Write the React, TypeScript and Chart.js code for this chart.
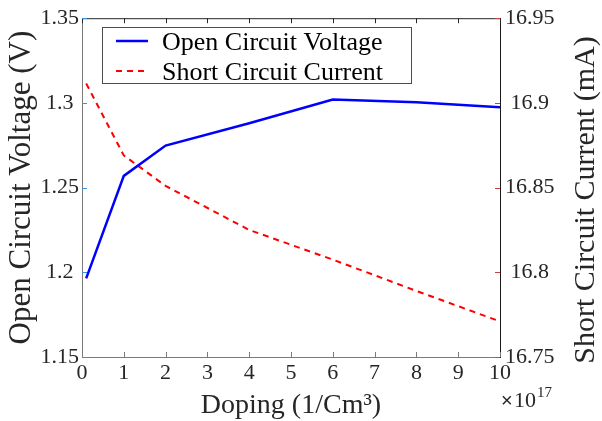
import React, { useEffect, useRef } from "react";
import { Chart, registerables } from "chart.js";

Chart.register(...registerables);

const doping = [0.1, 1, 2, 4, 6, 8, 10];
const openCircuitVoltage = [1.1964, 1.2569, 1.2748, 1.288, 1.302, 1.3004, 1.2975];
const shortCircuitCurrent = [16.9115, 16.869, 16.851, 16.825, 16.8075, 16.789, 16.771];
const seriesLabels = ["Open Circuit Voltage", "Short Circuit Current"];
const xTitle = "Doping (1/Cm³)";
const yLeftTitle = "Open Circuit Voltage (V)";
const yRightTitle = "Short Circuit Current (mA)";
const xExponent = "17";

const SERIF = "'Liberation Serif', 'Times New Roman', serif";
const TEXT = "#262626";

const fmt = (v: number) => String(parseFloat(Number(v).toFixed(2)));

const decorPlugin = {
  id: "decor",
  afterDraw(chart: any) {
    const ctx = chart.ctx as CanvasRenderingContext2D;
    const { left, right, top, bottom } = chart.chartArea;
    const xs = chart.scales.x;
    const yl = chart.scales.y;
    const yr = chart.scales.y1;
    const tl = 5;
    ctx.save();
    ctx.lineWidth = 1;
    const line = (x1: number, y1: number, x2: number, y2: number, c: string) => {
      ctx.strokeStyle = c;
      ctx.beginPath();
      ctx.moveTo(x1, y1);
      ctx.lineTo(x2, y2);
      ctx.stroke();
    };
    line(left + 0.5, top, left + 0.5, bottom, "#7a7a7a");
    line(left, bottom + 0.5, right, bottom + 0.5, "#7a7a7a");
    line(left, top + 0.5, right, top + 0.5, "#262626");
    line(right + 0.5, top, right + 0.5, bottom + 1, "#1a1a1a");
    xs.ticks.forEach((t: any) => {
      const px = Math.round(xs.getPixelForValue(t.value)) + 0.5;
      line(px, bottom, px, bottom - tl, "#7a7a7a");
      line(px, top, px, top + tl, "#262626");
    });
    yl.ticks.forEach((t: any) => {
      const py = Math.round(yl.getPixelForValue(t.value)) + 0.5;
      line(left, py, left + tl, py, "#3d8fd6");
    });
    yr.ticks.forEach((t: any) => {
      const py = Math.round(yr.getPixelForValue(t.value)) + 0.5;
      line(right, py, right - tl, py, "#d04040");
    });

    // right axis title, reading bottom to top
    ctx.fillStyle = TEXT;
    ctx.font = `30px ${SERIF}`;
    ctx.textAlign = "center";
    ctx.textBaseline = "middle";
    ctx.save();
    ctx.translate(586, 200);
    ctx.rotate(-Math.PI / 2);
    ctx.fillText(yRightTitle, 0, 0);
    ctx.restore();

    // x exponent
    ctx.textAlign = "left";
    ctx.textBaseline = "alphabetic";
    ctx.font = `20px 'Liberation Sans', sans-serif`;
    ctx.fillText("×", 501, 407);
    ctx.font = `22px ${SERIF}`;
    ctx.fillText("10", 514, 407);
    ctx.font = `15px ${SERIF}`;
    ctx.fillText(xExponent, 537, 397);

    // legend box
    const bx = 102, by = 27, bw = 309, bh = 56;
    ctx.fillStyle = "#ffffff";
    ctx.fillRect(bx, by, bw, bh);
    ctx.strokeStyle = "#4d4d4d";
    ctx.strokeRect(bx + 0.5, by + 0.5, bw, bh);
    chart.data.datasets.forEach((ds: any, i: number) => {
      const ly = 41 + i * 30;
      ctx.strokeStyle = ds.borderColor;
      ctx.lineWidth = ds.borderWidth;
      ctx.setLineDash(ds.borderDash || []);
      ctx.beginPath();
      ctx.moveTo(116, ly);
      ctx.lineTo(148, ly);
      ctx.stroke();
      ctx.setLineDash([]);
      ctx.fillStyle = "#000000";
      ctx.font = `26px ${SERIF}`;
      ctx.textBaseline = "alphabetic";
      ctx.textAlign = "left";
      ctx.fillText(ds.label, 162, ly + 9);
    });
    ctx.restore();
  },
};

export default function App() {
  const ref = useRef<HTMLCanvasElement | null>(null);
  useEffect(() => {
    if (!ref.current) return;
    const chart = new Chart(ref.current, {
      type: "line",
      data: {
        datasets: [
          {
            label: seriesLabels[0],
            data: doping.map((x, i) => ({ x, y: openCircuitVoltage[i] })),
            borderColor: "#0000ff",
            borderWidth: 2.5,
            pointRadius: 0,
            yAxisID: "y",
            tension: 0,
          },
          {
            label: seriesLabels[1],
            data: doping.map((x, i) => ({ x, y: shortCircuitCurrent[i] })),
            borderColor: "#ff0000",
            borderWidth: 2,
            borderDash: [6, 5],
            pointRadius: 0,
            yAxisID: "y1",
            tension: 0,
          },
        ],
      },
      options: {
        animation: false,
        responsive: false,
        devicePixelRatio: 1,
        layout: { padding: { top: 11, left: 0, right: 0, bottom: 0 } },
        plugins: { legend: { display: false }, tooltip: { enabled: false } },
        scales: {
          x: {
            type: "linear",
            min: 0,
            max: 10,
            ticks: {
              stepSize: 1,
              color: TEXT,
              font: { family: SERIF, size: 22 },
              padding: 3,
              maxRotation: 0,
              autoSkip: false,
            },
            grid: { display: false, drawTicks: false },
            border: { display: false },
            title: {
              display: true,
              text: xTitle,
              color: TEXT,
              font: { family: SERIF, size: 28, lineHeight: 1 },
              padding: { top: 0, bottom: 1 },
            },
            afterFit: (s: any) => {
              s.height = 64;
            },
          },
          y: {
            type: "linear",
            position: "left",
            min: 1.15,
            max: 1.35,
            ticks: {
              stepSize: 0.05,
              color: TEXT,
              font: { family: SERIF, size: 22 },
              padding: 3,
              crossAlign: "center",
              callback: (v: any) => fmt(v),
            },
            grid: { display: false, drawTicks: false },
            border: { display: false },
            title: {
              display: true,
              text: yLeftTitle,
              color: TEXT,
              font: { family: SERIF, size: 31, lineHeight: 1 },
              padding: { top: 6, bottom: 0 },
            },
            afterFit: (s: any) => {
              s.width = 82;
            },
          },
          y1: {
            type: "linear",
            position: "right",
            min: 16.75,
            max: 16.95,
            ticks: {
              stepSize: 0.05,
              color: TEXT,
              font: { family: SERIF, size: 22 },
              padding: 5,
              crossAlign: "center",
              callback: (v: any) => fmt(v),
            },
            grid: { display: false, drawTicks: false },
            border: { display: false },
            afterFit: (s: any) => {
              s.width = 102;
            },
          },
        },
      },
      plugins: [decorPlugin],
    } as any);
    return () => chart.destroy();
  }, []);
  return (
    <div style={{ position: "absolute", left: 0, top: 0, width: 602, height: 421, background: "#fff" }}>
      <canvas ref={ref} width={602} height={421} />
    </div>
  );
}
